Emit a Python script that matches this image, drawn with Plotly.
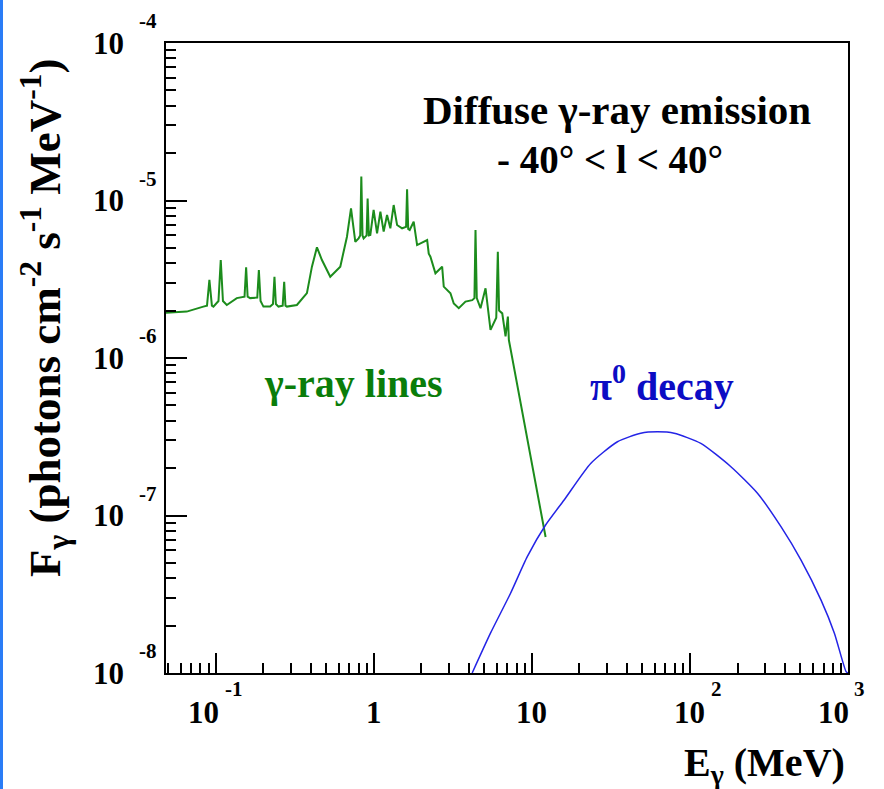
import numpy as np
import plotly.graph_objects as go

# ---- data -------------------------------------------------------------
# gamma-ray line spectrum (continuum + nuclear de-excitation lines)
line_E = [0.048, 0.0655, 0.0834, 0.0880, 0.0911, 0.0945, 0.0966, 0.1040, 0.1075, 0.1110,
          0.1174, 0.1358, 0.1520, 0.1556, 0.1590, 0.165, 0.183, 0.1873, 0.192, 0.2002,
          0.2208, 0.2300, 0.2351, 0.2400, 0.2492, 0.2650, 0.2709, 0.2760, 0.2818, 0.326,
          0.3773, 0.4058, 0.4365, 0.4695, 0.530, 0.6133, 0.676, 0.7171, 0.7634, 0.8010,
          0.8200, 0.8333, 0.8480, 0.8619, 0.9000, 0.9135, 0.9300, 0.9502, 0.997, 1.048,
          1.100, 1.154, 1.212, 1.272, 1.335, 1.403, 1.509, 1.600, 1.623, 1.650,
          1.686, 1.787, 1.878, 2.174, 2.225, 2.280, 2.453, 2.705, 2.769, 3.053,
          3.204, 3.447, 3.801, 4.193, 4.33, 4.398, 4.48, 4.731, 5.089, 5.472,
          5.95, 6.088, 6.2, 6.493, 6.813, 7.047, 7.150, 12.21]
line_F = [1.94e-6, 1.97e-6, 2.12e-6, 2.15e-6, 3.13e-6, 2.15e-6, 2.12e-6, 2.30e-6, 4.19e-6, 2.30e-6,
          2.17e-6, 2.40e-6, 2.45e-6, 3.77e-6, 2.45e-6, 2.40e-6, 2.42e-6, 3.62e-6, 2.30e-6, 2.12e-6,
          2.12e-6, 2.20e-6, 3.28e-6, 2.20e-6, 2.12e-6, 2.15e-6, 3.05e-6, 2.15e-6, 2.12e-6, 2.17e-6,
          2.58e-6, 3.80e-6, 5.04e-6, 4.19e-6, 3.28e-6, 3.80e-6, 5.89e-6, 8.92e-6, 5.47e-6, 5.75e-6,
          6.00e-6, 1.42e-5, 6.00e-6, 5.75e-6, 6.00e-6, 1.03e-5, 6.00e-6, 6.04e-6, 8.71e-6, 6.19e-6,
          8.49e-6, 6.34e-6, 8.09e-6, 6.66e-6, 9.36e-6, 6.99e-6, 6.66e-6, 6.80e-6, 1.18e-5, 6.60e-6,
          6.50e-6, 7.33e-6, 5.21e-6, 5.61e-6, 4.60e-6, 4.40e-6, 3.45e-6, 3.80e-6, 2.84e-6, 2.58e-6,
          2.22e-6, 2.07e-6, 2.28e-6, 2.33e-6, 2.40e-6, 6.50e-6, 2.40e-6, 2.07e-6, 2.77e-6, 1.51e-6,
          1.80e-6, 4.73e-6, 2.00e-6, 1.92e-6, 1.37e-6, 1.83e-6, 1.30e-6, 7.30e-8]

# pi0-decay bump
pi0_E = [4.19, 5.47, 7.33, 9.35, 12.21, 15.95, 23.55, 34.77, 48.86, 62.33,
         79.43, 117.2, 181.6, 268.2, 376.7, 504.5, 675.3, 820.0, 972.5, 1000.0]
pi0_F = [1.0e-8, 1.79e-8, 3.21e-8, 5.48e-8, 8.70e-8, 1.25e-7, 2.14e-7, 2.94e-7, 3.33e-7, 3.40e-7,
         3.33e-7, 2.87e-7, 2.04e-7, 1.38e-7, 8.49e-8, 5.21e-8, 2.90e-8, 1.79e-8, 1.02e-8, 1.0e-8]

# axis tick labels: (mantissa, exponent)
x_tick_vals = [0.1, 1, 10, 100, 1000]
x_tick_base = ["10", "1", "10", "10", "10"]
x_tick_exp = ["-1", "", "", "2", "3"]
y_tick_vals = [1e-4, 1e-5, 1e-6, 1e-7, 1e-8]
y_tick_exp = ["-4", "-5", "-6", "-7", "-8"]

# ---- styling ----------------------------------------------------------
FONT = "Liberation Serif"
GREEN_LINE = "#1c8c1c"
GREEN_TEXT = "#0a7d0a"
BLUE_LINE = "#2424e6"
BLUE_TEXT = "#0c0cc4"

L, R, T, B = 166, 36, 43, 116
W, H = 884, 789

fig = go.Figure()
fig.add_trace(go.Scatter(x=line_E, y=line_F, mode="lines",
                         line=dict(color=GREEN_LINE, width=2), hoverinfo="skip"))
fig.add_trace(go.Scatter(x=pi0_E, y=pi0_F, mode="lines",
                         line=dict(color=BLUE_LINE, width=1.5, shape="spline", smoothing=0.6),
                         hoverinfo="skip"))


def minor_vals(lo, hi):
    out = []
    for d in range(lo, hi):
        for k in range(2, 10):
            out.append(k * 10.0 ** d)
    return out


axis_common = dict(type="log", showgrid=False, zeroline=False, showline=True,
                   linecolor="black", linewidth=2, mirror=True,
                   ticks="inside", tickwidth=2, tickcolor="black",
                   showticklabels=False, tickmode="array")

fig.update_xaxes(range=[-1.315, 3], tickvals=x_tick_vals, ticklen=20,
                 minor=dict(ticks="inside", ticklen=10, tickwidth=2, tickcolor="black",
                            tickmode="array", tickvals=minor_vals(-2, 3), showgrid=False),
                 **axis_common)
fig.update_yaxes(range=[-8, -4], tickvals=y_tick_vals, ticklen=21,
                 minor=dict(ticks="inside", ticklen=10, tickwidth=2, tickcolor="black",
                            tickmode="array", tickvals=minor_vals(-8, -4), showgrid=False),
                 **axis_common)

ann = []
tick_font = dict(family=FONT, size=31, color="black", weight="bold")
exp_font = dict(family=FONT, size=21, color="black", weight="bold")

# y tick labels "10" with exponent raised to the right
for v, e in zip(y_tick_vals, y_tick_exp):
    ann.append(dict(x=0, xref="paper", y=np.log10(v), yref="y", text="10",
                    xanchor="right", yanchor="middle", xshift=-40, showarrow=False,
                    font=tick_font))
    ann.append(dict(x=0, xref="paper", y=np.log10(v), yref="y", text=e,
                    xanchor="left", yanchor="middle", xshift=-29, yshift=22,
                    showarrow=False, font=exp_font))

# x tick labels
x_base_shift = [-12, 0, 0, 0, -15]
for v, b, e, s in zip(x_tick_vals, x_tick_base, x_tick_exp, x_base_shift):
    ann.append(dict(x=np.log10(v), xref="x", y=0, yref="paper", text=b,
                    xanchor="center", yanchor="middle", xshift=s, yshift=-39,
                    showarrow=False, font=tick_font))
    if e:
        ann.append(dict(x=np.log10(v), xref="x", y=0, yref="paper", text=e,
                        xanchor="left", yanchor="middle", xshift=s + 19, yshift=-16,
                        showarrow=False, font=exp_font))

# axis titles
ann.append(dict(x=0, xref="paper", y=0.5635, yref="paper", xshift=-121,
                text="F<sub>γ</sub> (photons cm<sup>-2</sup> s<sup>-1</sup> MeV<sup>-1</sup>)",
                textangle=-90, showarrow=False, xanchor="center", yanchor="middle",
                font=dict(family=FONT, size=45, color="black", weight="bold")))
ann.append(dict(x=1, xref="paper", y=0, yref="paper", xshift=-1, yshift=-92,
                text="E<sub>γ</sub> (MeV)", showarrow=False,
                xanchor="right", yanchor="middle",
                font=dict(family=FONT, size=40, color="black", weight="bold")))

# in-plot labels
ann.append(dict(x=0.661, y=0.8937, xref="paper", yref="paper",
                xanchor="center", yanchor="middle",
                text="Diffuse γ-ray emission", showarrow=False,
                font=dict(family=FONT, size=41, color="black", weight="bold")))
ann.append(dict(x=0.651, y=0.8143, xref="paper", yref="paper",
                xanchor="center", yanchor="middle",
                text="- 40° < l < 40°", showarrow=False,
                font=dict(family=FONT, size=39, color="black", weight="bold")))
ann.append(dict(x=0.2742, y=0.4603, xref="paper", yref="paper",
                xanchor="center", yanchor="middle",
                text="γ-ray lines", showarrow=False,
                font=dict(family=FONT, size=40, color=GREEN_TEXT, weight="bold")))
ann.append(dict(x=0.727, y=0.4603, xref="paper", yref="paper",
                xanchor="center", yanchor="middle",
                text="π<sup>0</sup> decay", showarrow=False,
                font=dict(family=FONT, size=40, color=BLUE_TEXT, weight="bold")))

fig.update_layout(
    width=W, height=H,
    margin=dict(l=L, r=R, t=T, b=B, pad=0),
    paper_bgcolor="white", plot_bgcolor="white",
    showlegend=False,
    annotations=ann,
    shapes=[dict(type="rect", xref="paper", yref="paper",
                 x0=-L / (W - L - R), x1=-(L - 3) / (W - L - R),
                 y0=-B / (H - T - B), y1=1 + T / (H - T - B),
                 line=dict(width=0), fillcolor="#2a7cf6", layer="above")],
)

fig.write_html("out.html")
